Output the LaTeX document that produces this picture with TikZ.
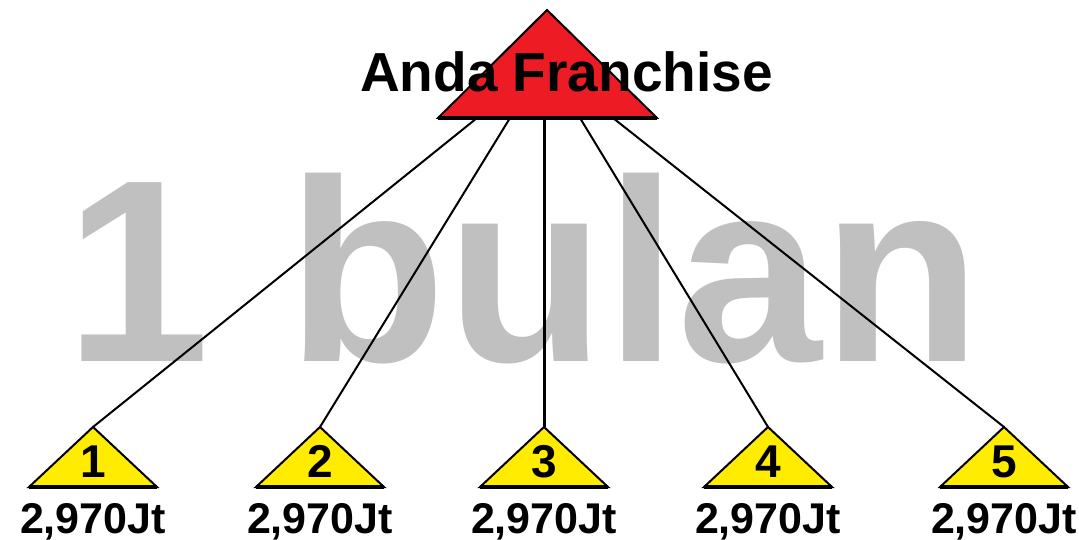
\documentclass[tikz,border=0pt]{standalone}
\usepackage{fontspec}
\setmainfont{Liberation Sans}
\definecolor{topred}{RGB}{237,28,36}
\definecolor{smallyel}{RGB}{255,236,0}
\definecolor{wmgray}{RGB}{192,192,192}
\tikzset{
  wmark/.style={inner sep=0pt, text=wmgray, font=\fontsize{260}{260}\selectfont\bfseries},
  toptext/.style={inner sep=0pt, font=\fontsize{55}{55}\selectfont\bfseries},
  numtext/.style={inner sep=0pt, font=\fontsize{46}{46}\selectfont\bfseries},
  valtext/.style={inner sep=0pt, font=\fontsize{43}{43}\selectfont\bfseries},
  link/.style={line width=2pt, black},
  mainlink/.style={line width=3pt, black},
  trifill/.style={draw=black, line width=2pt, line join=miter},
  basebar/.style={line width=4.5pt, black}
}
\begin{document}
\begin{tikzpicture}[x=1pt,y=-1pt]
\useasboundingbox (0,0) rectangle (1079,540);
\fill[white] (0,0) rectangle (1079,540);
% watermark
\node[wmark, anchor=base west] (wm) at (65,361) {1\hspace{6pt} bulan};
% top triangle coordinates
\coordinate (tapex) at (547,10);
\coordinate (tl) at (438,118);
\coordinate (tr) at (657,118);
\coordinate (s1) at (477,118);
\coordinate (s2) at (510,118);
\coordinate (s3) at (544,118);
\coordinate (s4) at (580,118);
\coordinate (s5) at (613,118);
% small triangles
\foreach \i/\x in {1/93,2/320,3/544,4/768,5/1004}{
  \coordinate (a\i) at (\x,427);
  \coordinate (l\i) at (\x-64,487);
  \coordinate (r\i) at (\x+64,487);
}
% connectors
\draw[link] (s1) -- (a1);
\draw[link] (s2) -- (a2);
\draw[mainlink] (s3) -- (a3);
\draw[link] (s4) -- (a4);
\draw[link] (s5) -- (a5);
% top triangle
\filldraw[trifill, fill=topred] (tl) -- (tapex) -- (tr) -- cycle;
\draw[basebar] (tl) -- (tr);
\node[toptext, anchor=base west] (title) at (360,92) {Anda Franchise};
% small triangles drawn
\foreach \i/\x in {1/93,2/320,3/544,4/768,5/1004}{
  \filldraw[trifill, fill=smallyel] (l\i) -- (a\i) -- (r\i) -- cycle;
  \draw[basebar] (l\i) -- (r\i);
  \node[numtext, anchor=base] (n\i) at (\x,477) {\i};
  \node[valtext, anchor=base] (v\i) at (\x,533) {2,970Jt};
}
\end{tikzpicture}
\end{document}
